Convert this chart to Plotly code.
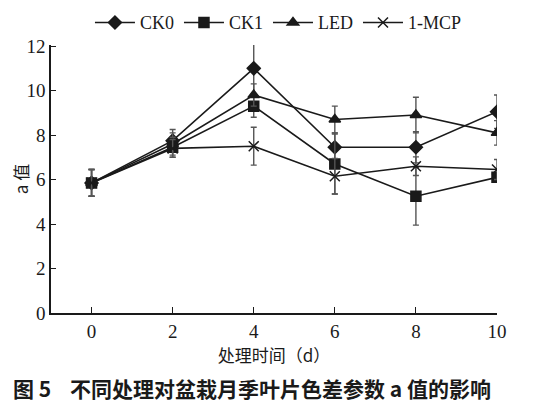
import plotly.graph_objects as go

days = [0, 2, 4, 6, 8, 10]

ck0 = [5.85, 7.75, 11.0, 7.45, 7.45, 9.05]
ck1 = [5.85, 7.45, 9.3, 6.7, 5.25, 6.1]
led = [5.85, 7.6, 9.8, 8.7, 8.9, 8.1]
mcp = [5.85, 7.4, 7.5, 6.15, 6.6, 6.45]

ck0_err = [0.6, 0.5, 1.15, 0.65, 0.7, 0.75]
ck1_err = [0.6, 0.45, 0.5, 1.35, 1.3, 0.2]
led_err = [0.6, 0.5, 0.5, 0.6, 0.8, 0.55]
mcp_err = [0.6, 0.4, 0.85, 0.8, 0.42, 0.45]

names = ["CK0", "CK1", "LED", "1-MCP"]
symbols = ["diamond", "square", "triangle-up", "x-thin"]
sizes = [10, 10, 10, 10]

fig = go.Figure()
for name, ys, err, sym, sz in zip(names, [ck0, ck1, led, mcp],
                                 [ck0_err, ck1_err, led_err, mcp_err],
                                 symbols, sizes):
    fig.add_trace(go.Scatter(
        x=days, y=ys, name=name, mode="lines+markers",
        line=dict(color="#1a1a1a", width=1.6),
        marker=dict(symbol=sym, size=sz, color="#1a1a1a",
                    line=dict(color="#1a1a1a", width=1.5)),
        error_y=dict(type="data", array=err, color="#555555",
                     thickness=1.4, width=3),
    ))

# page body has an 8px margin, so the figure is drawn 8px smaller
serif = "Liberation Serif"
fig.update_layout(
    width=550, height=403,
    margin=dict(l=43, r=61, t=37, b=98, autoexpand=False),
    paper_bgcolor="white", plot_bgcolor="white",
    font=dict(family=serif, size=19, color="#1a1a1a"),
    showlegend=True,
    legend=dict(orientation="h", x=0.51, y=1.083, xanchor="center",
                yanchor="middle", font=dict(size=18, family=serif),
                itemwidth=40, tracegroupgap=0, bgcolor="rgba(0,0,0,0)"),
    xaxis=dict(range=[-1, 10], tickvals=days, showline=True,
               linecolor="#1a1a1a", linewidth=1.5, ticks="inside",
               ticklen=6, tickcolor="#1a1a1a", showgrid=False,
               zeroline=False, mirror=False, automargin=False,
               title=dict(text="处理时间（d）", standoff=0,
                          font=dict(family="Noto Sans CJK SC", size=17))),
    yaxis=dict(range=[0, 12.05], tickvals=[0, 2, 4, 6, 8, 10, 12],
               showline=True, linecolor="#1a1a1a", linewidth=1.5,
               ticks="inside", ticklen=5, tickcolor="#1a1a1a",
               showgrid=False, zeroline=False, automargin=False,
               title=dict(text="a 值", standoff=4,
                          font=dict(family="Noto Sans CJK SC", size=17))),
    annotations=[dict(
        text="<b>图 5</b>    <b>不同处理对盆栽月季叶片色差参数 a 值的影响</b>",
        xref="paper", yref="paper", x=0.45, y=-0.28,
        xanchor="center", yanchor="middle", showarrow=False,
        font=dict(family="Noto Sans CJK SC", size=21, color="#1a1a1a"))],
)

fig.write_html("out.html")
